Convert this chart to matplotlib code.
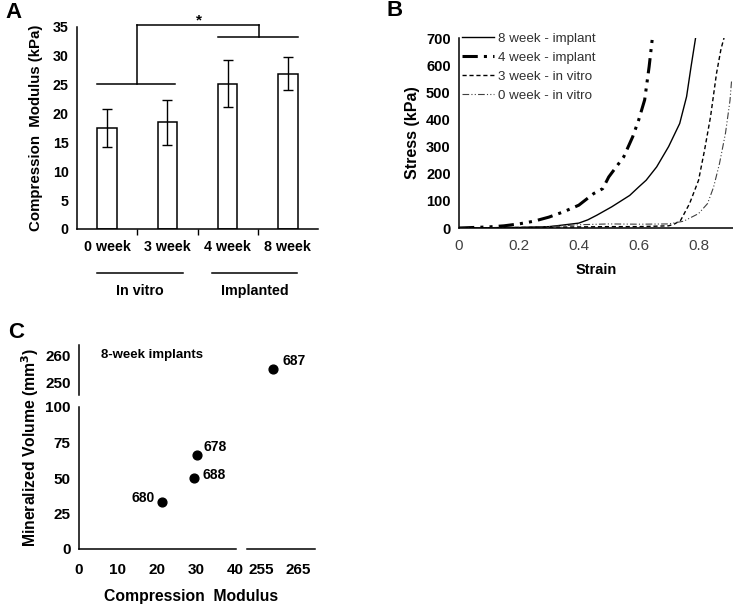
import matplotlib
matplotlib.use("Agg")
import matplotlib.pyplot as plt
import numpy as np

plt.rcParams['font.family'] = ['Liberation Sans', 'DejaVu Sans']

# ---------------- data ----------------
# Panel A
groups = ["0 week", "3 week", "4 week", "8 week"]
modulus = [17.5, 18.5, 25.2, 26.9]
modulus_err = [3.3, 3.9, 4.1, 2.9]

# Panel B (stress-strain curves)
w8_strain = [0, 0.1, 0.2, 0.3, 0.34, 0.4, 0.43, 0.46, 0.51, 0.57, 0.6, 0.625, 0.66, 0.7, 0.737, 0.76, 0.775, 0.79]
w8_stress = [0, 1, 2, 5, 10, 18, 30, 47, 78, 120, 151, 176, 225, 300, 385, 484, 595, 700]
w4_strain = [0, 0.1, 0.15, 0.2, 0.25, 0.3, 0.35, 0.4, 0.45, 0.48, 0.5, 0.55, 0.58, 0.6, 0.62, 0.635, 0.645]
w4_stress = [0, 4, 8, 15, 25, 40, 60, 84, 127, 145, 188, 262, 336, 398, 472, 595, 693]
w3_strain = [0, 0.2, 0.4, 0.5, 0.6, 0.7, 0.72, 0.74, 0.77, 0.8, 0.82, 0.84, 0.86, 0.875, 0.885]
w3_stress = [0, 2, 4, 5, 5, 8, 15, 28, 90, 176, 287, 410, 570, 660, 700]
w0_strain = [0, 0.2, 0.3, 0.4, 0.5, 0.6, 0.7, 0.75, 0.8, 0.83, 0.85, 0.87, 0.89, 0.905, 0.91]
w0_stress = [0, 2, 5, 12, 15, 14, 15, 25, 53, 90, 150, 238, 350, 470, 540]
series_names = ["8 week - implant", "4 week - implant", "3 week - in vitro", "0 week - in vitro"]

# Panel C
sample_ids = ["680", "688", "678", "687"]
comp_mod = [21.3, 29.5, 30.3, 258.2]
min_vol = [33, 50, 66, 255]

W, H = 733, 607
fig = plt.figure(figsize=(W / 100, H / 100), dpi=100)


def rect(x0, y0, x1, y1):
    return [x0 / W, 1 - y1 / H, (x1 - x0) / W, (y1 - y0) / H]


bold = dict(fontweight='bold')
FS = 10.3

# ---------------- Panel A ----------------
axA = fig.add_axes(rect(77, 27, 318, 229))
xs = np.arange(len(groups))
axA.bar(xs, modulus, width=0.32, color='white', edgecolor='black', linewidth=1.1, zorder=2)
axA.errorbar(xs, modulus, yerr=modulus_err, fmt='none', ecolor='black', elinewidth=1.0,
             capsize=3.5, capthick=1.0, zorder=3)
axA.set_xlim(-0.5, 3.5)
axA.set_ylim(0, 35)
axA.set_yticks(range(0, 36, 5))
axA.set_xticks(xs)
axA.set_xticklabels(groups, fontsize=FS, **bold)
axA.set_xticks([0.5, 1.5, 2.5], minor=True)
axA.tick_params(axis='x', which='major', length=0, pad=8)
axA.tick_params(axis='x', which='minor', length=4, width=1, direction='out')
axA.tick_params(axis='y', length=0, pad=6, labelsize=FS)
for lab in axA.get_yticklabels():
    lab.set_fontweight('bold')
for s in ['top', 'right']:
    axA.spines[s].set_visible(False)
for s in ['left', 'bottom']:
    axA.spines[s].set_linewidth(1.1)
axA.set_ylabel("Compression  Modulus (kPa)", fontsize=10.8, labelpad=7, **bold)

lk = dict(color='black', lw=1.1, clip_on=False)
axA.plot([-0.17, 1.13], [25.2, 25.2], **lk)
axA.plot([0.5, 0.5], [25.2, 35.3], **lk)
axA.plot([0.5, 2.52], [35.3, 35.3], **lk)
axA.plot([2.52, 2.52], [35.3, 33.3], **lk)
axA.plot([1.84, 3.17], [33.3, 33.3], **lk)
axA.text(1.52, 34.9, "*", ha='center', va='bottom', fontsize=11, **bold)

axA.plot([-0.17, 1.26], [-7.6, -7.6], **lk)
axA.plot([1.74, 3.15], [-7.6, -7.6], **lk)
axA.text(0.545, -10.7, "In vitro", ha='center', va='center', fontsize=FS, clip_on=False, **bold)
axA.text(2.45, -10.7, "Implanted", ha='center', va='center', fontsize=FS, clip_on=False, **bold)

fig.text(5 / W, 1 - 12 / H, "A", fontsize=16, va='center', ha='left', **bold)

# ---------------- Panel B ----------------
axB = fig.add_axes(rect(459, 38, 733, 228))
axB.plot(w8_strain, w8_stress, color='black', lw=1.0, linestyle='-', label=series_names[0])
axB.plot(w4_strain, w4_stress, color='black', lw=2.2, linestyle=(0, (5, 2, 1, 2, 1, 2)), label=series_names[1])
axB.plot(w3_strain, w3_stress, color='black', lw=1.0, linestyle=(0, (3, 2)), label=series_names[2])
axB.plot(w0_strain, w0_stress, color='#404040', lw=0.8, linestyle=(0, (6, 2, 1, 2, 1, 2)), label=series_names[3])
axB.set_xlim(0, 0.915)
axB.set_ylim(0, 700)
axB.set_xticks([0, 0.2, 0.4, 0.6, 0.8])
axB.set_xticklabels(["0", "0.2", "0.4", "0.6", "0.8"])
axB.set_yticks(range(0, 701, 100))
axB.tick_params(axis='x', length=0, pad=8, labelsize=11, labelcolor='#404040')
axB.tick_params(axis='y', length=0, pad=6, labelsize=10.5)
for lab in axB.get_yticklabels():
    lab.set_fontweight('bold')
for s in ['top', 'right']:
    axB.spines[s].set_visible(False)
for s in ['left', 'bottom']:
    axB.spines[s].set_linewidth(1.1)
axB.set_xlabel("Strain", fontsize=10.5, labelpad=7, **bold)
axB.set_ylabel("Stress (kPa)", fontsize=11.5, labelpad=4, **bold)
leg = axB.legend(loc='upper left', bbox_to_anchor=(-0.014, 1.065), frameon=False, fontsize=9.6,
                 handlelength=2.4, handletextpad=0.3, labelspacing=0.5, borderaxespad=0.1)
for t in leg.get_texts():
    t.set_color('#303030')

fig.text(387 / W, 1 - 11 / H, "B", fontsize=16, va='center', ha='left', **bold)

# ---------------- Panel C ----------------
ylim_top = (245.7, 263.6)
xlim_left = (0, 40.3)
xlim_right = (251.2, 269.6)
FC = 11

axCt = fig.add_axes(rect(79, 345, 236, 395))
axCtr = fig.add_axes(rect(247, 345, 315, 395))
axCl = fig.add_axes(rect(79, 407, 236, 549))
axCr = fig.add_axes(rect(247, 407, 315, 549))

for ax in (axCt, axCtr):
    ax.set_ylim(*ylim_top)
    ax.patch.set_alpha(0)
for ax in (axCl, axCr):
    ax.set_ylim(0, 100)
    ax.patch.set_alpha(0)
for ax in (axCt, axCl):
    ax.set_xlim(*xlim_left)
for ax in (axCtr, axCr):
    ax.set_xlim(*xlim_right)

for ax in (axCt, axCtr, axCl, axCr):
    for s in ['top', 'right', 'left', 'bottom']:
        ax.spines[s].set_visible(False)
        ax.spines[s].set_linewidth(1.1)
    ax.tick_params(length=0, labelsize=FC)

axCt.spines['left'].set_visible(True)
axCt.set_xticks([])
axCt.set_yticks([250, 260])
axCtr.set_xticks([])
axCtr.set_yticks([])
axCl.spines['left'].set_visible(True)
axCl.spines['bottom'].set_visible(True)
axCl.set_xticks([0, 10, 20, 30, 40])
axCl.set_yticks([0, 25, 50, 75, 100])
axCr.spines['bottom'].set_visible(True)
axCr.set_xticks([255, 265])
axCr.set_yticks([])
for ax in (axCt, axCl, axCr):
    ax.tick_params(axis='y', pad=6)
    ax.tick_params(axis='x', pad=10)
    for lab in ax.get_xticklabels() + ax.get_yticklabels():
        lab.set_fontweight('bold')

offsets = {"680": (-5, 3, 'right'), "688": (6, 2, 'left'), "678": (5, 6, 'left'), "687": (7, 6, 'left')}
for sid, cx, cy in zip(sample_ids, comp_mod, min_vol):
    if cx > 100:
        ax = axCtr
    else:
        ax = axCl
    ax.scatter([cx], [cy], s=40, color='black', zorder=3, clip_on=False)
    dx, dy, ha = offsets[sid]
    ax.annotate(sid, (cx, cy), xytext=(dx, dy), textcoords='offset points', ha=ha, va='center',
                fontsize=10, annotation_clip=False, **bold)

axCt.text(0.14, 0.8, "8-week implants", transform=axCt.transAxes, fontsize=9.5, ha='left', va='center', **bold)

fig.text(30 / W, 1 - 447 / H, "Mineralized Volume (mm$^\\mathbf{3}$)", rotation=90, fontsize=11.3,
         ha='center', va='center', **bold)
fig.text(191 / W, 1 - 597 / H, "Compression  Modulus", fontsize=11.3, ha='center', va='center', **bold)

fig.text(8 / W, 1 - 333 / H, "C", fontsize=16, va='center', ha='left', **bold)

fig.savefig("out.png", dpi=100)
